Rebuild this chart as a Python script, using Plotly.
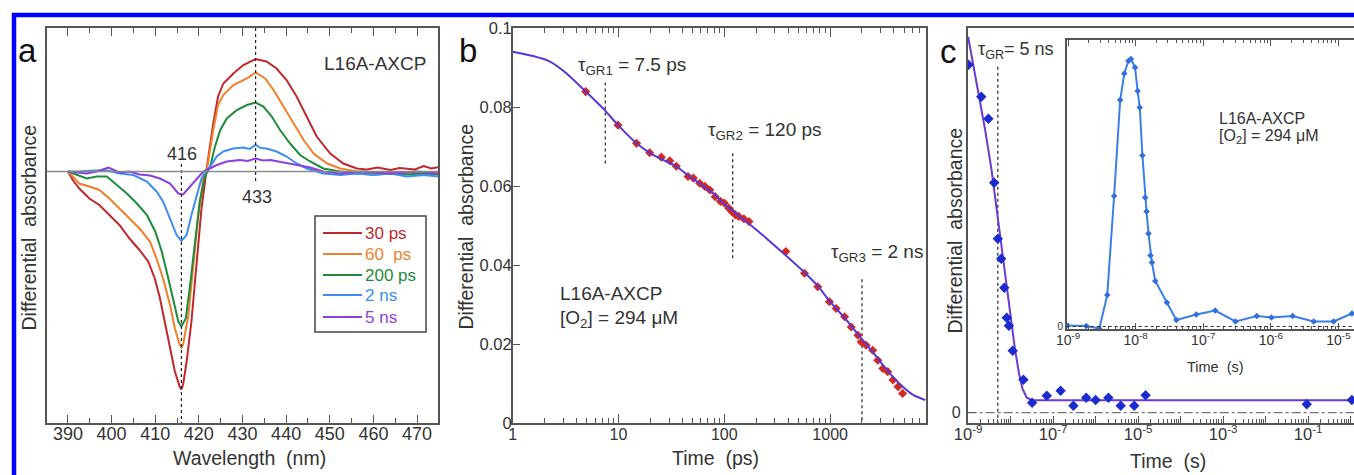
import plotly.graph_objects as go

W, H = 1354, 475
def px(x): return x / W
def py(y): return 1 - y / H

FONT = "Liberation Sans, Arial, sans-serif"
TXT = "#333333"
AX = "#555555"

# ---------------- Panel a : transient spectra ----------------
wl_30ps = [390, 391.1, 392.6, 394.9, 397.2, 399.5, 401.8, 404.1, 406.4, 408.4, 409.9, 411.1, 412.2, 413.4, 414.5, 415.6, 416.0, 416.4, 417.2, 418.3, 419.5, 420.6, 421.8, 422.2, 423.3, 424.4, 425.6, 427.9, 430.2, 433.0, 435.5, 437.8, 440.1, 442.4, 444.7, 447.0, 450.1, 453.1, 456.2, 458.5, 461, 463.9, 466, 467.7, 469.5, 471.5, 473.3, 475]
dA_30ps = [0, -0.85, -1.7, -2.7, -3.35, -4.35, -5.35, -6.7, -7.85, -9.0, -10.7, -12.7, -15.0, -17.7, -20.0, -21.5, -21.8, -21.3, -19.0, -15.0, -9.35, -3.7, 0.3, 1.5, 4.8, 7.5, 8.8, 9.8, 10.65, 11.25, 11.0, 10.3, 9.15, 7.5, 5.5, 3.5, 1.8, 0.8, 0.3, 0.2, 0.4, 0.15, 0.35, 0.3, 0.2, 0.55, 0.3, 0.45]

wl_60ps = [390, 391.1, 392.6, 394.9, 397.2, 399.5, 401.8, 404.1, 406.4, 408.8, 410.3, 411.8, 413.4, 414.5, 415.6, 416.0, 416.4, 417.6, 418.7, 419.8, 421.0, 422.0, 423.3, 424.4, 425.6, 427.9, 431.0, 433.0, 435.2, 437.1, 439.4, 441.7, 444.0, 446.3, 449.4, 452.4, 456.2, 460, 463.9, 467.7, 471.5, 475]
dA_60ps = [0, -0.5, -1.2, -1.5, -1.85, -2.7, -3.7, -4.7, -5.7, -7.0, -8.7, -10.7, -13.35, -15.7, -17.3, -17.6, -17.3, -14.35, -9.7, -4.7, -0.7, 0.6, 4.15, 6.65, 7.65, 8.65, 9.3, 9.9, 9.3, 8.15, 6.5, 4.8, 3.15, 1.8, 0.8, 0.3, 0, -0.15, -0.2, -0.1, -0.2, -0.1]

wl_200ps = [390, 392, 394.3, 396.6, 398.9, 401.2, 403.5, 405.8, 408.1, 410.0, 411.5, 413.0, 414.2, 415.3, 416.0, 417.0, 417.9, 419.1, 420.2, 421.4, 422.0, 422.6, 423.7, 424.9, 426.4, 428.7, 431.0, 433.0, 434.8, 436.7, 438.6, 440.9, 443.2, 445.5, 448.5, 452.4, 456, 460, 464, 468, 472, 475]
dA_200ps = [0, -0.35, -0.7, -0.5, -0.5, -1.35, -2.2, -3.2, -4.35, -6.0, -8.0, -10.7, -13.0, -15.0, -15.5, -14.7, -11.7, -7.35, -3.0, -0.5, 0, 0.5, 2.5, 4.15, 5.3, 6.15, 6.65, 6.9, 6.5, 5.5, 4.15, 2.8, 1.65, 1.0, 0.3, 0, -0.2, -0.3, -0.2, -0.3, -0.2, -0.3]

wl_2ns = [390, 392.6, 395.8, 398.9, 401.9, 405.0, 408.1, 410.3, 411.8, 413.4, 414.9, 416.0, 417.2, 418.3, 419.5, 420.6, 421.8, 422.6, 424.1, 425.6, 427.9, 430.2, 431.6, 433.0, 434.2, 435.5, 437.8, 440.1, 442.4, 444.7, 448.5, 452.4, 456.2, 460.0, 463.9, 467.7, 471.5, 475]
dA_2ns = [0, 0, 0.1, 0.1, -0.2, -0.35, -1.0, -2.0, -3.0, -4.7, -6.35, -6.95, -6.35, -4.35, -2.35, -0.7, 0.15, 0.5, 1.5, 2.0, 2.3, 2.4, 2.25, 2.65, 2.35, 2.3, 2.0, 1.5, 0.8, 0.3, -0.2, -0.35, -0.2, -0.35, -0.2, -0.5, -0.35, -0.5]

wl_5ns = [390, 392, 394.3, 396.6, 399.3, 401.8, 404.1, 406.4, 408.8, 411.1, 413.4, 415.3, 416.4, 418.0, 419.5, 421.0, 422.5, 424.1, 426.4, 429.4, 431.2, 433.0, 434.7, 436.4, 439.4, 442.4, 445.5, 448.5, 452.4, 457.7, 463.9, 470, 475]
dA_5ns = [0, -0.1, -0.2, 0, 0.4, -0.1, 0, -0.3, -0.4, -0.7, -1.2, -2.2, -2.3, -1.5, -0.7, 0, 0.3, 0.65, 1.0, 1.15, 1.05, 1.3, 1.1, 1.15, 0.9, 0.65, 0.4, 0.0, -0.2, 0, -0.2, 0, -0.2]

spectra = [
    ("30 ps", wl_30ps, dA_30ps, "#c0282d"),
    ("60  ps", wl_60ps, dA_60ps, "#f07f2a"),
    ("200 ps", wl_200ps, dA_200ps, "#1e8c3a"),
    ("2 ns", wl_2ns, dA_2ns, "#3d8ef0"),
    ("5 ns", wl_5ns, dA_5ns, "#8a3fe0"),
]
peak_wl = [416, 433]
peak_line_y0 = [0.75, 14.35]
peak_line_y1 = [-25.15, -1.25]

# ---------------- Panel b : kinetics (ps) ----------------
t_fit_ps = [1, 1.56, 2.25, 3.23, 4.9, 7.4, 9.9, 14.8, 19.7, 25.4, 35, 45, 58, 78, 97, 120, 161, 249, 371, 573, 764, 985, 1413, 1891, 2524, 3373, 4508, 6025, 7943]
dA_fit_b = [0.0940, 0.0929, 0.0915, 0.0885, 0.0839, 0.0792, 0.0754, 0.0708, 0.0684, 0.0668, 0.0650, 0.0628, 0.0607, 0.0582, 0.0558, 0.0537, 0.0510, 0.0468, 0.0427, 0.0381, 0.0347, 0.0309, 0.0262, 0.0220, 0.0180, 0.0137, 0.0100, 0.0072, 0.0058]

t_data_ps = [4.9, 9.9, 14.8, 19.7, 25.4, 30.5, 35.2, 45.4, 51, 58.5, 65.5, 73, 82, 92, 100, 110, 118, 127, 137, 153, 171, 381, 573, 764, 985, 1140, 1370, 1582, 1830, 1965, 2190, 2524, 2820, 3150, 3500, 3920, 4380, 4842]
dA_data_b = [0.0839, 0.0754, 0.0708, 0.0684, 0.0673, 0.0664, 0.0650, 0.0624, 0.0620, 0.0607, 0.0599, 0.0590, 0.0573, 0.0561, 0.0557, 0.0544, 0.0535, 0.0527, 0.0523, 0.0517, 0.0510, 0.0434, 0.0379, 0.0345, 0.0307, 0.0290, 0.0269, 0.0243, 0.0222, 0.0205, 0.0197, 0.0184, 0.0159, 0.0138, 0.0130, 0.0109, 0.0092, 0.0075]

tau_b = [7.5, 120, 2000]
tau_b_y0 = [0.0862, 0.0683, 0.0364]
tau_b_y1 = [0.0653, 0.0417, 0.0]

# ---------------- Panel c : kinetics (s) ----------------
t_fit_s = [1.0e-9, 1.58e-9, 2.51e-9, 3.55e-9, 5.0e-9, 7.08e-9, 1.0e-8, 1.26e-8, 1.58e-8, 1.9e-8, 2.4e-8, 3.16e-8, 1.2]
dA_fit_c = [37.6, 33.0, 28.3, 24.3, 19.3, 14.5, 9.6, 6.4, 3.9, 2.4, 1.5, 1.25, 1.24]

t_data_s = [1.02e-9, 2.04e-9, 3.0e-9, 4.1e-9, 5.0e-9, 6.0e-9, 7.1e-9, 8.1e-9, 9.1e-9, 1.12e-8, 2.0e-8, 3.2e-8, 7.1e-8, 1.5e-7, 3.0e-7, 6.0e-7, 1.0e-6, 2.0e-6, 3.9e-6, 8.1e-6, 1.5e-5, 0.093, 1.07]
dA_data_c = [34.8, 31.6, 29.4, 23.0, 17.4, 15.4, 12.5, 9.5, 8.7, 6.2, 3.3, 1.0, 1.7, 2.2, 0.7, 1.5, 1.27, 1.5, 0.7, 0.7, 1.74, 0.84, 1.27]

tau_c = [5e-9]
tau_c_y0 = [34.6]
tau_c_y1 = [-1.06]

# inset
t_inset_s = [9.6e-10, 1.86e-9, 2.9e-9, 3.8e-9, 4.8e-9, 5.9e-9, 6.8e-9, 7.8e-9, 8.5e-9, 9.8e-9, 1.07e-8, 1.15e-8, 1.26e-8, 1.38e-8, 1.45e-8, 1.55e-8, 1.66e-8, 1.74e-8, 1.95e-8, 2.9e-8, 4.0e-8, 7.9e-8, 1.5e-7, 3.0e-7, 6.2e-7, 1.02e-6, 2.1e-6, 4.3e-6, 8.5e-6, 1.58e-5]
dA_inset = [0.1, 0.05, -0.2, 3.15, 13.05, 22.65, 25.3, 26.55, 26.75, 25.9, 23.55, 21.9, 17.1, 12.9, 11.5, 9.3, 7.1, 6.4, 4.55, 2.4, 0.65, 1.2, 1.6, 0.5, 1.05, 0.9, 1.05, 0.5, 0.5, 1.3]

fig = go.Figure()

# panel a traces
for name, x, y, col in spectra:
    fig.add_trace(go.Scatter(x=x, y=y, mode="lines", line=dict(color=col, width=2),
                             xaxis="x", yaxis="y", showlegend=False, name=name))
for w, a0, a1 in zip(peak_wl, peak_line_y0, peak_line_y1):
    fig.add_trace(go.Scatter(x=[w, w], y=[a0, a1], mode="lines",
                             line=dict(color="#222", width=1.2, dash="dot"),
                             xaxis="x", yaxis="y", showlegend=False, hoverinfo="skip"))

# panel b traces
for t, a0, a1 in zip(tau_b, tau_b_y0, tau_b_y1):
    fig.add_trace(go.Scatter(x=[t, t], y=[a0, a1], mode="lines",
                             line=dict(color="#222", width=1.2, dash="dot"),
                             xaxis="x2", yaxis="y2", showlegend=False, hoverinfo="skip"))
fig.add_trace(go.Scatter(x=t_data_ps, y=dA_data_b, mode="markers",
                         marker=dict(symbol="diamond", size=7, color="#d42a1e"),
                         xaxis="x2", yaxis="y2", showlegend=False))
fig.add_trace(go.Scatter(x=t_fit_ps, y=dA_fit_b, mode="lines",
                         line=dict(color="#5b35d5", width=2, shape="spline", smoothing=0.6),
                         xaxis="x2", yaxis="y2", showlegend=False))

# panel c traces
for t, a0, a1 in zip(tau_c, tau_c_y0, tau_c_y1):
    fig.add_trace(go.Scatter(x=[t, t], y=[a0, a1], mode="lines",
                             line=dict(color="#222", width=1.2, dash="dot"),
                             xaxis="x3", yaxis="y3", showlegend=False, hoverinfo="skip"))
fig.add_trace(go.Scatter(x=t_fit_s, y=dA_fit_c, mode="lines", line=dict(color="#6b3ad0", width=2),
                         xaxis="x3", yaxis="y3", showlegend=False))
fig.add_trace(go.Scatter(x=t_data_s, y=dA_data_c, mode="markers",
                         marker=dict(symbol="diamond", size=8, color="#1a2bd0"),
                         xaxis="x3", yaxis="y3", showlegend=False))
fig.add_trace(go.Scatter(x=t_inset_s, y=dA_inset, mode="lines+markers",
                         line=dict(color="#3b7ee8", width=2),
                         marker=dict(symbol="diamond", size=5, color="#2f6fe0"),
                         xaxis="x4", yaxis="y4", showlegend=False))

def decade_minor(e0, e1):
    return [m * 10.0 ** e for e in range(e0, e1) for m in range(2, 10)]

common = dict(showline=True, linecolor=AX, linewidth=1.5, showgrid=False, zeroline=False,
              tickcolor=AX, tickwidth=1.3, automargin=False)

fig.update_layout(
    width=W, height=H, margin=dict(l=0, r=0, t=0, b=0),
    template="none", paper_bgcolor="white", plot_bgcolor="white",
    font=dict(family=FONT, color=TXT, size=16),
    xaxis=dict(domain=[px(47), px(438)], range=[385.2, 474.8], anchor="y",
               tickmode="array", tickvals=list(range(390, 471, 10)), ticks="inside", ticklen=8,
               minor=dict(tickvals=list(range(395, 476, 10)), ticks="inside", ticklen=5, tickcolor=AX, tickwidth=1.3),
               mirror="ticks", tickfont=dict(size=18), ticklabelstandoff=-6, **common),
    yaxis=dict(domain=[py(423), py(28)], range=[-25.15, 14.35], anchor="x",
               showticklabels=False, ticks="", mirror=True, **common),
    xaxis2=dict(domain=[px(512.7), px(926)], type="log", range=[0, 3.906], anchor="y2",
                tickmode="array", tickvals=[1, 10, 100, 1000], ticktext=["1", "10", "100", "1000"],
                ticks="inside", ticklen=9,
                minor=dict(tickvals=decade_minor(0, 4), ticks="inside", ticklen=5, tickcolor=AX, tickwidth=1.3),
                mirror="ticks", tickfont=dict(size=16), ticklabelstandoff=-4, **common),
    yaxis2=dict(domain=[py(423), py(28)], range=[0, 0.1], anchor="x2",
                tickmode="array", tickvals=[0, 0.02, 0.04, 0.06, 0.08, 0.1],
                ticktext=["0", "0.02", "0.04", "0.06", "0.08", "0.1"],
                ticks="inside", ticklen=8, mirror=True, tickfont=dict(size=16.5),
                ticklabelstandoff=-4, **common),
    xaxis3=dict(domain=[px(967.7), 1.0], type="log", range=[-9.01, 0.08], anchor="y3",
                tickmode="array", tickvals=[10.0 ** e for e in range(-9, 1)],
                ticktext=[("10<sup>%d</sup>" % e) if e % 2 else "" for e in range(-9, 1)],
                ticks="inside", ticklen=8,
                minor=dict(tickvals=decade_minor(-9, 1), ticks="inside", ticklen=5, tickcolor=AX, tickwidth=1.3),
                mirror=True, tickfont=dict(size=16.5), ticklabelstandoff=-5, **common),
    yaxis3=dict(domain=[py(423.3), py(28.3)], range=[-1.06, 38.44], anchor="x3",
                tickmode="array", tickvals=[0], ticktext=["0"], ticks="inside", ticklen=8, mirror=False,
                tickfont=dict(size=16), ticklabelstandoff=2, **common),
    xaxis4=dict(domain=[px(1066.7), 1.0], type="log", range=[-9.02, -4.77], anchor="y4",
                tickmode="array", tickvals=[10.0 ** e for e in range(-9, -4)],
                ticktext=["10<sup>%d</sup>" % e for e in range(-9, -4)],
                ticks="inside", ticklen=6,
                minor=dict(tickvals=decade_minor(-9, -4), ticks="inside", ticklen=3, tickcolor=AX, tickwidth=1),
                mirror="ticks", tickfont=dict(size=14), ticklabelstandoff=-3, **common),
    yaxis4=dict(domain=[py(329), py(40)], range=[-0.25, 28.65], anchor="x4",
                tickmode="array", tickvals=[0], ticktext=["0"], ticks="", mirror=True,
                tickfont=dict(size=10), **common),
)

shapes = []
# zero lines
shapes.append(dict(type="line", xref="x domain", yref="y", x0=0, x1=1, y0=0, y1=0,
                   line=dict(color="#8a8a8a", width=1.5)))
shapes.append(dict(type="line", xref="x3 domain", yref="y3", x0=0, x1=1, y0=0, y1=0,
                   line=dict(color="#555", width=1, dash="dashdot")))
shapes.append(dict(type="line", xref="x4 domain", yref="y4", x0=0, x1=1, y0=0, y1=0,
                   line=dict(color="#333", width=1, dash="dot")))
# legend box for panel a
shapes.append(dict(type="rect", xref="paper", yref="paper", x0=px(315), x1=px(426), y0=py(332), y1=py(216),
                   line=dict(color="#444", width=1.5), fillcolor="white", layer="above"))
leg_y = [233, 254, 275, 295, 317]
for (name, _, _, col), ly in zip(spectra, leg_y):
    shapes.append(dict(type="line", xref="paper", yref="paper", x0=px(323), x1=px(362), y0=py(ly), y1=py(ly),
                       line=dict(color=col, width=2), layer="above"))
# blue page border
shapes.append(dict(type="line", xref="paper", yref="paper", x0=px(12), x1=1, y0=py(15), y1=py(15),
                   line=dict(color="#0000ff", width=4.5)))
shapes.append(dict(type="line", xref="paper", yref="paper", x0=px(14), x1=px(14), y0=py(13), y1=0,
                   line=dict(color="#0000ff", width=4.5)))
fig.update_layout(shapes=shapes)

ann = []
def text(x, y, s, size, xanchor="left", color=TXT, angle=0):
    ann.append(dict(x=px(x), y=py(y), xref="paper", yref="paper", text=s, showarrow=False,
                    xanchor=xanchor, yanchor="middle", font=dict(size=size, color=color, family=FONT),
                    textangle=angle))

for (name, _, _, col), ly in zip(spectra, leg_y):
    text(363, ly, name, 17, color=col)

text(27.5, 51, "a", 33, "center", "#111")
text(468, 51, "b", 33, "center", "#111")
text(948, 52, "c", 33, "center", "#111")

text(322, 63, "L16A-AXCP", 19)
text(181.7, 154, "416", 18, "center")
text(256.7, 197, "433", 18, "center")

text(576, 66, "τ<sub>GR1</sub> = 7.5 ps", 19)
text(706, 131, "τ<sub>GR2</sub> = 120 ps", 19)
text(829, 253, "τ<sub>GR3</sub> = 2 ns", 19)
text(558, 293, "L16A-AXCP", 19)
text(558, 319, "[O<sub>2</sub>] = 294 μM", 19)

text(976, 51, "τ<sub>GR</sub>= 5 ns", 18)
text(1217, 118, "L16A-AXCP", 16)
text(1217, 136, "[O<sub>2</sub>] = 294 μM", 16)

# axis titles
text(249, 458, "Wavelength  (nm)", 19.5, "center")
text(715, 458, "Time  (ps)", 19.5, "center")
text(1168, 461, "Time  (s)", 19.5, "center")
text(1215, 367, "Time  (s)", 14.5, "center")
text(28.5, 228, "Differential  absorbance", 19.5, "center", angle=-90)
text(465.5, 227, "Differential  absorbance", 19.5, "center", angle=-90)
text(954.5, 230, "Differential  absorbance", 19.5, "center", angle=-90)

fig.update_layout(annotations=ann)
fig.write_html("out.html", config={"displayModeBar": False},
               post_script="document.body.style.margin='0px';document.body.style.overflow='hidden';")
